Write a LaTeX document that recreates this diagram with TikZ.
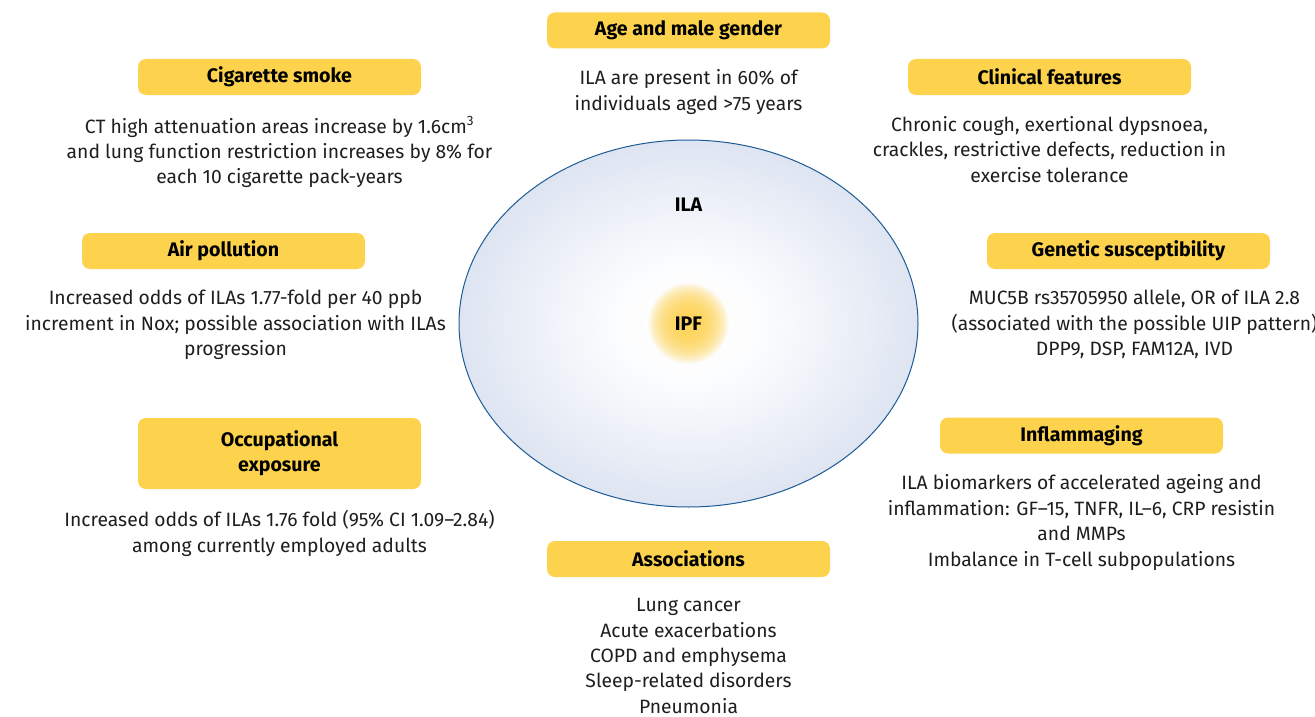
\documentclass[tikz,border=0pt]{standalone}
\usepackage{fontspec}
\setmainfont{Fira Sans}
\usetikzlibrary{positioning,shapes.geometric}

\definecolor{ilayellow}{RGB}{253,211,77}
\definecolor{ilaedge}{RGB}{178,194,224}
\definecolor{ilablue}{RGB}{29,91,149}
\definecolor{textgray}{RGB}{30,30,30}
\pgfdeclareradialshading{ilashade}{\pgfpoint{0bp}{0bp}}{color(0bp)=(white); color(8bp)=(white!96!ilaedge); color(50bp)=(ilaedge); color(72bp)=(ilaedge)}

\begin{document}
\begin{tikzpicture}[x=1pt,y=-1pt,
 box/.style={fill=ilayellow,rounded corners=8pt,minimum width=283pt,minimum height=36pt,inner sep=0pt,align=center,font=\bfseries\fontsize{19.6}{25}\selectfont},
 txt/.style={align=center,inner sep=0pt,text=textgray,font=\fontsize{19.3}{25.4}\selectfont},
 every node/.append style={node distance=21pt}]
\useasboundingbox (0,0) rectangle (1315,717);
% central ellipse
\node[ellipse,draw=ilablue,line width=1pt,shading=ilashade,minimum width=459pt,minimum height=367pt] (ila) at (688.5,323.5) {};
% soft yellow glow round IPF
\foreach \r in {10,12,...,40}
  \fill[ilayellow,opacity=0.13] (ila.center) circle (\r);
\node[font=\bfseries\fontsize{19.6}{22}\selectfont] (ilalabel) at (688.5,205) {ILA};
\node[font=\bfseries\fontsize{19.6}{22}\selectfont] (ipf) at (ila.center) {IPF};
% headers
\node[box] (age) at (688.5,30.5) {Age and male gender};
\node[box] (smoke) at (279.5,77) {Cigarette smoke};
\node[box] (clinical) at (1049.5,77) {Clinical features};
\node[box] (air) at (223.5,251) {Air pollution};
\node[box] (genetic) at (1128.5,251) {Genetic susceptibility};
\node[box,minimum height=71pt] (occup) at (279.5,453.5) {Occupational\\exposure};
\node[box] (inflam) at (1081.5,435.5) {Inflammaging};
\node[box] (assoc) at (688.5,559) {Associations};
% descriptions
\node[txt,below=of age] (agetxt) {ILA are present in 60\% of\\individuals aged >75 years};
\node[txt,below=of smoke] (smoketxt) {CT high attenuation areas increase by 1.6cm\textsuperscript{3}\\and lung function restriction increases by 8\% for\\each 10 cigarette pack-years};
\node[txt,below=of clinical] (clinicaltxt) {Chronic cough, exertional dypsnoea,\\crackles, restrictive defects, reduction in\\exercise tolerance};
\node[txt,below=of air,xshift=12pt] (airtxt) {Increased odds of ILAs 1.77-fold per 40 ppb\\increment in Nox; possible association with ILAs\\progression};
\node[txt,below=of genetic,xshift=6pt] (genetictxt) {MUC5B rs35705950 allele, OR of ILA 2.8\\(associated with the possible UIP pattern)\\DPP9, DSP, FAM12A, IVD};
\node[txt,below=of occup] (occuptxt) {Increased odds of ILAs 1.76 fold (95\% CI 1.09--2.84)\\among currently employed adults};
\node[txt,below=of inflam] (inflamtxt) {ILA biomarkers of accelerated ageing and\\inflammation: GF--15, TNFR, IL--6, CRP resistin\\and MMPs\\Imbalance in T-cell subpopulations};
\node[txt,below=of assoc] (assoctxt) {Lung cancer\\Acute exacerbations\\COPD and emphysema\\Sleep-related disorders\\Pneumonia};
\end{tikzpicture}
\end{document}
